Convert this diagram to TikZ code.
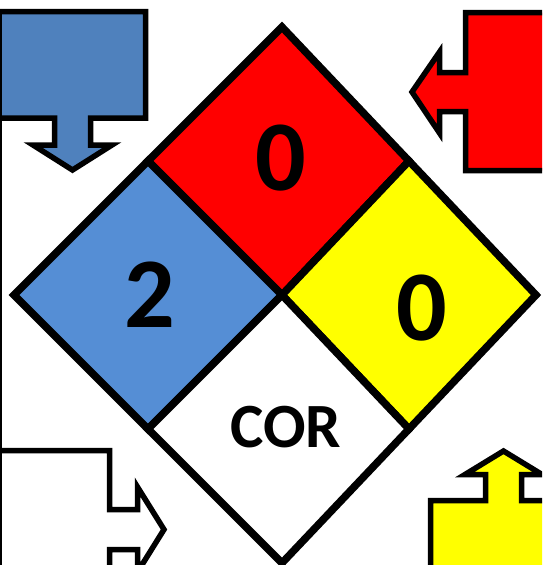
\documentclass[tikz,border=0pt]{standalone}
\usepackage{fontspec}
\setmainfont{Carlito}
\usetikzlibrary{calc}
\definecolor{hblue}{HTML}{558ED5}
\definecolor{cblue}{HTML}{4F81BD}
\definecolor{hred}{HTML}{FF0000}
\definecolor{hyellow}{HTML}{FFFF00}

\begin{document}
\begin{tikzpicture}[x=1pt,y=-1pt,
    quad/.style={draw=black,line width=7.5pt,line join=miter},
    callout/.style={draw=black,line width=5.5pt,line join=miter},
    rating/.style={font=\bfseries\fontsize{100}{100}\selectfont,inner sep=0pt},
    special/.style={font=\bfseries\fontsize{63}{63}\selectfont,inner sep=0pt}]
    \useasboundingbox (0,0) rectangle (542,565);
    \clip (0,0) rectangle (542,565);
    \coordinate (n) at (282,27);
    \coordinate (w) at (14,295);
    \coordinate (e) at (536,295);
    \coordinate (s) at (282,563);
    \coordinate (c) at (282,295);
    \coordinate (nw) at ($(n)!0.5!(w)$);
    \coordinate (ne) at ($(n)!0.5!(e)$);
    \coordinate (sw) at ($(s)!0.5!(w)$);
    \coordinate (se) at ($(s)!0.5!(e)$);
    % callouts
    \draw[callout, fill=cblue] (-5,11.5) -- (145.5,11.5) -- (145.5,118) -- (90.5,118) -- (90.5,145) -- (112,145) -- (72.5,170) -- (33,145) -- (54.5,145) -- (54.5,118) -- (-5,118) -- cycle;
    \draw[callout, fill=hred] (560,12.5) -- (465.5,12.5) -- (465.5,72.5) -- (439.5,72.5) -- (439.5,52) -- (412,92) -- (439.5,133) -- (439.5,111.5) -- (465.5,111.5) -- (465.5,170.5) -- (560,170.5) -- cycle;
    \draw[callout, fill=white] (-5,450.5) -- (109.5,450.5) -- (109.5,509.5) -- (137.5,509.5) -- (137.5,487) -- (164,529.5) -- (137.5,572) -- (137.5,549.5) -- (109.5,549.5) -- (109.5,600) -- (-5,600) -- cycle;
    \draw[callout, fill=hyellow] (430.5,600) -- (430.5,500.5) -- (485.5,500.5) -- (485.5,474.5) -- (465,474.5) -- (503.5,451) -- (542,474.5) -- (521.5,474.5) -- (521.5,500.5) -- (560,500.5) -- (560,600) -- cycle;
    \draw[line width=2.5pt] (1,9) -- (1,565);
    % diamond
    \draw[quad, fill=hred] (n) -- (ne) -- (c) -- (nw) -- cycle;
    \draw[quad, fill=hblue] (nw) -- (c) -- (sw) -- (w) -- cycle;
    \draw[quad, fill=hyellow] (ne) -- (e) -- (se) -- (c) -- cycle;
    \draw[quad, fill=white] (c) -- (se) -- (s) -- (sw) -- cycle;
    \node[rating] (flam)   at (280.5,158.5) {0};
    \node[rating] (health) at (150,295)     {2};
    \node[rating] (react)  at (421.5,308.5) {0};
    \node[special] (spec)  at (286,427)     {COR};
\end{tikzpicture}
\end{document}
